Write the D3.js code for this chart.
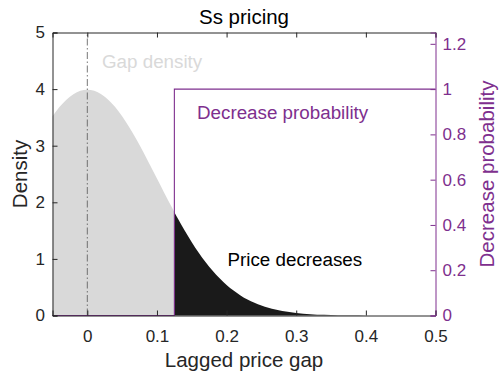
<!DOCTYPE html>
<html>
<head>
<meta charset="utf-8">
<script src="https://cdn.jsdelivr.net/npm/d3@7"></script>
<style>
  html, body { margin: 0; padding: 0; background: #fff; }
  svg { display: block; font-family: "Liberation Sans", Arial, Helvetica, sans-serif; }
</style>
</head>
<body>
<svg id="chart" width="499" height="373"></svg>
<script>
// Lagged price gap grid and the gap density at each point
const gapX = [-0.05, -0.04, -0.03, -0.02, -0.01, 0, 0.01, 0.02, 0.03, 0.04, 0.05,
  0.06, 0.07, 0.08, 0.09, 0.10, 0.11, 0.12, 0.125, 0.13, 0.14, 0.15, 0.16, 0.17,
  0.18, 0.19, 0.20, 0.21, 0.22, 0.23, 0.24, 0.25, 0.26, 0.27, 0.28, 0.29, 0.30,
  0.32, 0.34, 0.36, 0.38, 0.40, 0.45, 0.50];
const gapDensity = [3.521, 3.683, 3.814, 3.910, 3.970, 3.989, 3.970, 3.910, 3.814, 3.683, 3.521,
  3.332, 3.123, 2.897, 2.661, 2.420, 2.179, 1.942, 1.826, 1.714, 1.497, 1.295, 1.109, 0.941,
  0.790, 0.656, 0.540, 0.440, 0.355, 0.283, 0.224, 0.175, 0.136, 0.104, 0.079, 0.060, 0.044,
  0.024, 0.012, 0.006, 0.003, 0.001, 0.0001, 0];

// Price-decrease threshold and the step probability of a decrease
const threshold = 0.125;
const probX = [-0.05, 0.125, 0.125, 0.5];
const probY = [0, 0, 1, 1];

// Axis ticks
const xTicks = [0, 0.1, 0.2, 0.3, 0.4, 0.5];
const yTicks = [0, 1, 2, 3, 4, 5];
const y2Ticks = [0, 0.2, 0.4, 0.6, 0.8, 1, 1.2];

const purple = "#7e2f8e";
const ink = "#262626";
const svg = d3.select("#chart");
const m = { left: 52.5, right: 435.5, top: 32.5, bottom: 315.5 };

const x = d3.scaleLinear().domain([-0.05, 0.5]).range([m.left, m.right]);
const y = d3.scaleLinear().domain([0, 5]).range([m.bottom, m.top]);
const y2 = d3.scaleLinear().domain([0, 1.25]).range([m.bottom, m.top]);

const pts = gapX.map((v, i) => ({ x: v, d: gapDensity[i] }));
const area = d3.area().x(p => x(p.x)).y0(y(0)).y1(p => y(p.d)).curve(d3.curveMonotoneX);

// Density below and above the threshold
svg.append("path").datum(pts.filter(p => p.x <= threshold))
  .attr("d", area).attr("fill", "#d9d9d9");
svg.append("path").datum(pts.filter(p => p.x >= threshold))
  .attr("d", area).attr("fill", "#1a1a1a");

// Zero-gap reference line
svg.append("line")
  .attr("x1", x(0)).attr("x2", x(0)).attr("y1", y(0)).attr("y2", y(5))
  .attr("stroke", "#555").attr("stroke-width", 0.8)
  .attr("stroke-dasharray", "7,2.5,1.5,2.5");

// Decrease probability step
const probPts = probX.map((v, i) => [v, probY[i]]);
svg.append("path").datum(probPts)
  .attr("d", d3.line().x(p => x(p[0])).y(p => y2(p[1])))
  .attr("fill", "none").attr("stroke", purple).attr("stroke-width", 1.1);

// Axes (ticks drawn inward)
const tickLen = 5;
const tickFont = 17;
const fmt = d3.format("~g");
const gx = svg.append("g").attr("transform", `translate(0,${m.bottom})`)
  .call(d3.axisBottom(x).tickValues(xTicks).tickSize(-tickLen).tickPadding(14).tickFormat(fmt));
const gxTop = svg.append("g").attr("transform", `translate(0,${m.top})`)
  .call(d3.axisTop(x).tickValues(xTicks).tickSize(-tickLen).tickFormat(""));
const gy = svg.append("g").attr("transform", `translate(${m.left},0)`)
  .call(d3.axisLeft(y).tickValues(yTicks).tickSize(-tickLen).tickPadding(7.5).tickFormat(fmt));
const gy2 = svg.append("g").attr("transform", `translate(${m.right},0)`)
  .call(d3.axisRight(y2).tickValues(y2Ticks).tickSize(-tickLen).tickPadding(7).tickFormat(fmt));

[gx, gxTop, gy, gy2].forEach(g => {
  g.attr("font-size", tickFont).attr("font-family", "'Liberation Sans', Arial, sans-serif");
});
[gx, gxTop, gy].forEach(g => {
  g.selectAll("path.domain").attr("stroke", ink).attr("stroke-width", 1);
  g.selectAll(".tick line").attr("stroke", ink);
  g.selectAll("text").attr("fill", ink);
});
gy2.selectAll("path.domain").attr("stroke", purple).attr("stroke-width", 1);
gy2.selectAll(".tick line").attr("stroke", purple);
gy2.selectAll("text").attr("fill", purple);

// Title and axis labels
const labelFont = 20.5;
svg.append("text").attr("x", (m.left + m.right) / 2).attr("y", 24)
  .attr("text-anchor", "middle").attr("font-size", labelFont).attr("fill", "#000").text("Ss pricing");
svg.append("text").attr("x", (m.left + m.right) / 2).attr("y", 367)
  .attr("text-anchor", "middle").attr("font-size", labelFont).attr("fill", ink).text("Lagged price gap");
svg.append("text").attr("transform", `translate(26.5,${(m.top + m.bottom) / 2}) rotate(-90)`)
  .attr("text-anchor", "middle").attr("font-size", labelFont).attr("fill", ink).text("Density");
svg.append("text").attr("transform", `translate(494,${(m.top + m.bottom) / 2}) rotate(-90)`)
  .attr("text-anchor", "middle").attr("font-size", labelFont).attr("fill", purple).text("Decrease probability");

// In-plot annotations
const noteFont = 18.8;
svg.append("text").attr("x", 102).attr("y", 68).attr("font-size", noteFont)
  .attr("fill", "#d9d9d9").text("Gap density");
svg.append("text").attr("x", 197).attr("y", 119).attr("font-size", noteFont)
  .attr("fill", purple).text("Decrease probability");
svg.append("text").attr("x", 227.5).attr("y", 266).attr("font-size", noteFont)
  .attr("fill", "#000").text("Price decreases");
</script>
</body>
</html>
